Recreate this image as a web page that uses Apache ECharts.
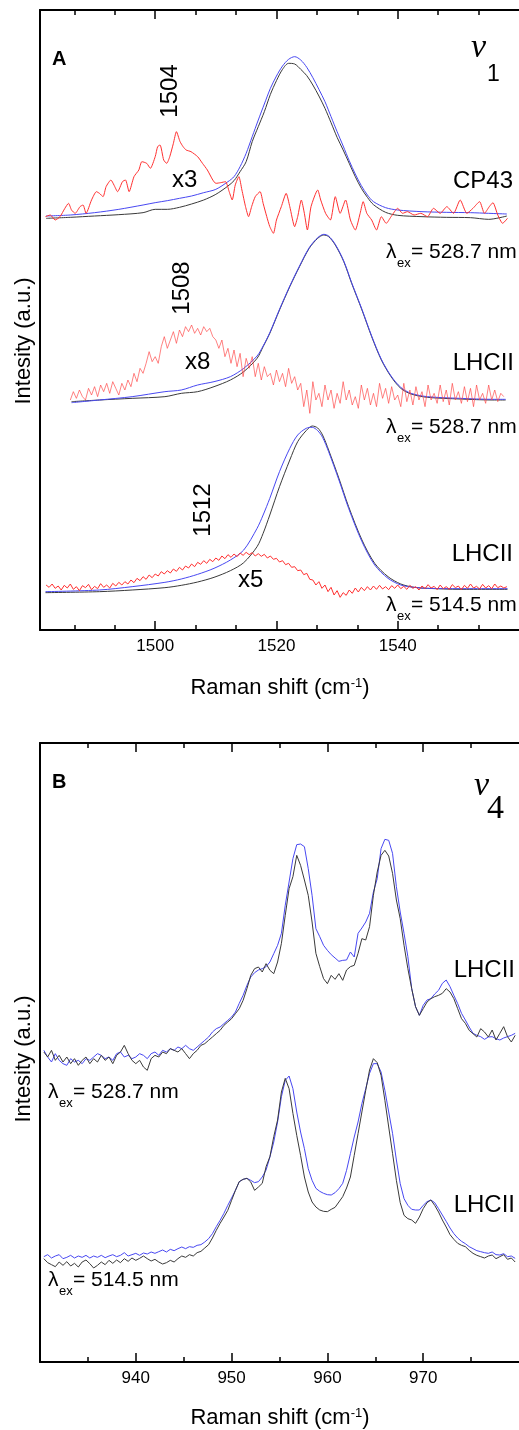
<!DOCTYPE html>
<html><head><meta charset="utf-8">
<script src="https://cdn.jsdelivr.net/npm/echarts@6/dist/echarts.min.js"></script>
<style>html,body{margin:0;padding:0;background:#fff;overflow:hidden}#c{width:519px;height:1430px}</style>
</head><body><div id="c"></div>
<script>
// ---------------- Panel A (v1 band, cm-1) ----------------
const aMajorTicks = [1500, 1520, 1540];
const aMinorTicks = [1486.667, 1493.333, 1506.667, 1513.333, 1526.667, 1533.333, 1546.667, 1553.333];
// CP43, 528.7 nm
const xA1s = [1482,1486,1490,1494,1498,1500,1502,1504,1506,1508,1510,1512,1513,1514,1515,1516,1517,1518,1519,1520,1521,1522,1523,1524,1525,1526,1527,1528,1529,1530,1531,1532,1533,1534,1535,1536,1538,1540,1544,1548,1552,1555,1558];
const blackA1 = [1235,1238,1242,1246,1252,1262,1262,1268,1278,1290,1307,1332,1348,1375,1405,1465,1510,1555,1607,1648,1682,1700,1698,1682,1663,1635,1602,1565,1522,1478,1440,1400,1360,1325,1298,1276,1253,1244,1240,1238,1237,1232,1242];
const blueA1 = [1242,1245,1252,1262,1275,1282,1288,1295,1302,1312,1322,1345,1360,1390,1430,1480,1530,1578,1625,1662,1692,1712,1720,1710,1688,1657,1622,1585,1540,1495,1452,1408,1368,1333,1305,1285,1267,1260,1255,1253,1252,1250,1248];
const xA1r = [1481.9,1482.7,1483.5,1484.3,1485.1,1485.7,1486.2,1486.8,1487.6,1488.1,1488.6,1489.5,1490.3,1490.8,1491.4,1491.9,1492.7,1493.2,1493.8,1494.6,1495.1,1495.7,1496.5,1497.3,1497.8,1498.6,1499.2,1500,1500.4,1500.8,1501.4,1501.9,1502.4,1503,1503.5,1504.1,1504.6,1505.1,1505.9,1507,1507.8,1508.6,1509.5,1510,1510.8,1511.6,1512.2,1512.7,1513.2,1513.8,1514.3,1514.9,1515.4,1515.9,1516.5,1517.3,1517.8,1518.4,1518.9,1519.5,1520,1520.8,1521.6,1522.2,1523,1523.5,1524.1,1524.6,1525.1,1525.7,1526.8,1527.3,1528.1,1528.9,1529.7,1530.5,1531.4,1532.2,1533,1533.8,1534.3,1534.9,1535.7,1536.5,1537.3,1538.1,1538.9,1540,1540.8,1541.6,1542.7,1543.8,1544.9,1545.9,1547,1548.1,1549.2,1550.3,1551.4,1552.4,1553.5,1554.3,1555.1,1555.7,1556.5,1557.3,1558.1];
const redA1 = [1240,1245,1230,1240,1265,1280,1260,1250,1270,1275,1250,1290,1315,1310,1300,1330,1350,1335,1315,1345,1350,1315,1360,1380,1405,1400,1385,1420,1450,1455,1410,1400,1420,1460,1495,1465,1450,1440,1435,1420,1400,1380,1350,1340,1342,1345,1315,1290,1335,1360,1320,1270,1240,1270,1300,1315,1280,1240,1210,1190,1230,1270,1310,1270,1210,1240,1290,1250,1200,1270,1320,1290,1250,1230,1300,1250,1290,1230,1200,1250,1285,1250,1230,1200,1240,1220,1240,1265,1250,1255,1245,1250,1240,1265,1250,1270,1250,1290,1250,1265,1285,1250,1270,1282,1245,1220,1235];
// LHCII, 528.7 nm
const xA2s = [1486.2,1490.8,1496.2,1501.6,1504.3,1507,1509.7,1512.4,1514.6,1516.8,1517.8,1518.9,1520.5,1522.2,1523.8,1525.4,1526.8,1527.8,1528.6,1529.7,1531.1,1532.4,1534.1,1535.7,1537.3,1538.9,1540.5,1542.2,1544.9,1550.3,1555.7,1557.8];
const blackA2 = [685,690,695,700,710,715,730,750,775,815,850,890,960,1030,1090,1145,1175,1185,1180,1155,1105,1040,960,880,810,760,725,708,698,693,690,690];
const blueA2 = [682,690,700,715,720,735,745,760,785,822,852,892,962,1032,1092,1147,1177,1187,1182,1157,1107,1042,962,882,812,762,728,710,700,695,692,692];
const xA2r = [1486,1486.5,1487,1487.5,1488,1488.5,1489,1489.5,1490,1490.5,1491,1491.5,1492,1492.5,1493,1493.5,1494,1494.5,1495,1495.5,1496,1496.5,1497,1497.5,1498,1498.5,1499,1499.5,1500,1500.5,1501,1501.5,1502,1502.5,1503,1503.5,1504,1504.5,1505,1505.5,1506,1506.5,1507,1507.5,1508,1508.5,1509,1509.5,1510,1510.5,1511,1511.5,1512,1512.5,1513,1513.5,1514,1514.5,1515,1515.5,1516,1516.5,1517,1517.5,1518,1518.5,1519,1519.5,1520,1520.5,1521,1521.5,1522,1522.5,1523,1523.5,1524,1524.5,1525,1525.5,1526,1526.5,1527,1527.5,1528,1528.5,1529,1529.5,1530,1530.5,1531,1531.5,1532,1532.5,1533,1533.5,1534,1534.5,1535,1535.5,1536,1536.5,1537,1537.5,1538,1538.5,1539,1539.5,1540,1540.5,1541,1541.5,1542,1542.5,1543,1543.5,1544,1544.5,1545,1545.5,1546,1546.5,1547,1547.5,1548,1548.5,1549,1549.5,1550,1550.5,1551,1551.5,1552,1552.5,1553,1553.5,1554,1554.5,1555,1555.5,1556,1556.5,1557,1557.5];
const redA2 = [690,715,695,720,700,690,725,705,730,700,735,715,740,710,745,725,705,740,720,750,730,770,745,785,770,800,835,805,820,800,850,880,845,870,895,860,900,880,910,895,915,890,905,885,910,895,905,880,870,845,870,820,845,800,840,790,830,760,815,785,820,760,800,750,790,760,770,735,780,745,770,730,785,740,760,720,740,670,720,650,745,690,710,670,735,690,720,665,710,680,745,690,720,675,700,665,735,690,725,675,710,670,740,695,725,680,730,690,705,670,740,685,720,675,730,690,715,670,735,690,710,680,735,685,720,675,740,690,715,680,730,685,725,670,735,690,710,680,735,690,720,685,710,700];
// LHCII, 514.5 nm
const xA3s = [1481.9,1490.8,1496.2,1501.6,1504.3,1507,1509.7,1512.4,1514.6,1516.8,1517.8,1518.9,1520.5,1522.2,1523.5,1524.9,1525.9,1526.8,1527.6,1528.6,1530.3,1531.9,1534.1,1536.2,1538.4,1540.5,1542.7,1544.9,1550.3,1558.1];
const blackA3 = [112,115,120,127,134,144,158,178,202,250,290,345,430,510,565,598,612,606,585,540,455,370,270,200,160,138,128,125,122,122];
const blueA3 = [115,120,130,143,153,167,185,210,240,305,345,395,475,545,585,605,608,598,578,535,450,365,265,195,155,135,128,125,124,124];
const xA3r = [1482,1482.5,1483,1483.5,1484,1484.5,1485,1485.5,1486,1486.5,1487,1487.5,1488,1488.5,1489,1489.5,1490,1490.5,1491,1491.5,1492,1492.5,1493,1493.5,1494,1494.5,1495,1495.5,1496,1496.5,1497,1497.5,1498,1498.5,1499,1499.5,1500,1500.5,1501,1501.5,1502,1502.5,1503,1503.5,1504,1504.5,1505,1505.5,1506,1506.5,1507,1507.5,1508,1508.5,1509,1509.5,1510,1510.5,1511,1511.5,1512,1512.5,1513,1513.5,1514,1514.5,1515,1515.5,1516,1516.5,1517,1517.5,1518,1518.5,1519,1519.5,1520,1520.5,1521,1521.5,1522,1522.5,1523,1523.5,1524,1524.5,1525,1525.5,1526,1526.5,1527,1527.5,1528,1528.5,1529,1529.5,1530,1530.5,1531,1531.5,1532,1532.5,1533,1533.5,1534,1534.5,1535,1535.5,1536,1536.5,1537,1537.5,1538,1538.5,1539,1539.5,1540,1540.5,1541,1541.5,1542,1542.5,1543,1543.5,1544,1544.5,1545,1545.5,1546,1546.5,1547,1547.5,1548,1548.5,1549,1549.5,1550,1550.5,1551,1551.5,1552,1552.5,1553,1553.5,1554,1554.5,1555,1555.5,1556,1556.5,1557,1557.5,1558];
const redA3 = [135,128,138,125,132,120,134,126,138,122,130,118,133,127,137,121,131,124,139,128,135,126,140,132,143,135,145,138,150,142,155,148,160,152,165,157,168,162,175,168,178,171,183,176,188,180,192,186,198,190,203,197,208,200,212,205,216,209,222,214,226,218,228,220,231,224,233,226,232,222,229,221,227,216,222,212,215,204,208,196,200,188,190,178,180,166,170,152,150,135,145,125,135,115,128,105,118,98,112,104,120,110,126,114,128,118,130,120,132,122,134,123,130,121,133,125,135,124,131,122,134,125,130,120,132,124,136,126,131,121,135,124,130,122,136,127,132,121,134,125,138,126,131,123,137,126,133,124,138,127,132,126,130];

// ---------------- Panel B (v4 band, cm-1) ----------------
const bMajorTicks = [940, 950, 960, 970];
const bMinorTicks = [935, 945, 955, 965, 975];
const xB = [930.4,930.8,931.2,931.6,932,932.4,932.8,933.2,933.6,934,934.4,934.8,935.2,935.6,936,936.4,936.8,937.2,937.6,938,938.4,938.8,939.2,939.6,940,940.4,940.8,941.2,941.6,942,942.4,942.8,943.2,943.6,944,944.4,944.8,945.2,945.6,946,946.4,946.8,947.2,947.6,948,948.4,948.8,949.2,949.6,950,950.4,950.8,951.2,951.6,952,952.4,952.8,953.2,953.6,954,954.4,954.8,955.2,955.6,956,956.4,956.8,957.2,957.6,958,958.4,958.8,959.2,959.6,960,960.4,960.8,961.2,961.6,962,962.4,962.8,963.2,963.6,964,964.4,964.8,965.2,965.6,966,966.4,966.8,967.2,967.6,968,968.4,968.8,969.2,969.6,970,970.4,970.8,971.2,971.6,972,972.4,972.8,973.2,973.6,974,974.4,974.8,975.2,975.6,976,976.4,976.8,977.2,977.6,978,978.4,978.8,979.2,979.6];
// LHCII, 528.7 nm
const blackB1 = [930,915,935,905,920,900,915,895,910,890,905,915,895,910,900,920,905,915,895,920,930,950,925,905,895,905,885,875,910,920,915,930,925,940,935,930,940,925,910,925,935,950,955,965,975,985,995,1010,1020,1030,1045,1060,1085,1120,1160,1180,1185,1170,1195,1175,1165,1200,1256,1340,1420,1456,1520,1490,1446,1400,1320,1226,1186,1150,1135,1160,1148,1165,1145,1176,1186,1190,1226,1270,1266,1306,1400,1470,1520,1535,1518,1466,1386,1330,1250,1180,1120,1066,1040,1060,1080,1090,1096,1100,1106,1120,1110,1090,1060,1030,1016,995,985,975,1000,990,975,996,966,986,1006,976,960,980];
const blueB1 = [935,915,900,925,905,895,890,910,900,905,895,910,905,915,925,920,910,915,905,925,930,915,920,910,915,925,920,910,925,930,920,935,930,940,935,945,940,950,940,935,945,955,965,975,990,1000,1005,1015,1025,1035,1050,1076,1100,1130,1155,1168,1176,1180,1186,1200,1225,1250,1286,1370,1440,1510,1552,1554,1546,1480,1400,1300,1276,1250,1235,1222,1212,1202,1205,1206,1230,1215,1286,1302,1320,1346,1410,1450,1540,1568,1565,1526,1426,1350,1286,1216,1120,1066,1040,1070,1086,1090,1104,1115,1136,1146,1126,1100,1075,1046,1026,1005,986,980,976,968,975,976,970,966,972,976,980,986];
// LHCII, 514.5 nm
const blackB2 = [310,298,292,286,300,290,301,288,296,285,300,306,295,282,290,300,292,305,296,306,298,310,302,312,305,311,318,310,303,308,300,294,298,305,300,310,318,314,322,318,328,332,342,352,372,395,416,435,455,485,515,541,548,551,540,515,525,536,586,616,676,726,810,851,820,746,680,620,555,510,480,465,456,452,451,458,464,480,496,522,555,620,685,750,815,876,910,898,860,785,705,626,545,478,440,430,426,416,435,460,478,486,470,450,426,405,382,368,356,350,346,335,326,320,316,312,318,321,310,316,322,308,312,300];
const blueB2 = [316,322,312,318,322,310,314,320,312,318,314,320,312,318,314,320,313,318,322,316,320,328,318,322,326,320,327,324,330,326,331,336,330,338,334,340,345,340,346,344,350,352,360,370,385,406,425,446,470,492,515,541,548,551,545,538,541,555,576,615,660,720,796,845,858,820,750,690,640,580,545,521,512,506,502,501,508,520,536,575,625,675,720,775,820,866,895,895,870,815,750,686,606,535,490,470,458,456,456,470,481,486,478,460,441,422,402,385,372,362,355,346,340,334,331,328,326,330,322,321,325,316,318,311];

// ---------------- Text ----------------
const xTitleText = 'Raman shift (cm{sup|-1})';
const yTitleText = 'Intesity (a.u.)';

const FS = "'Liberation Sans', Arial, sans-serif";
const SERIF = "'Liberation Serif', 'Times New Roman', serif";
const BLACK = '#3a3a3a', BLUE = '#4848f2', RED = '#ff3030', RED2 = 'rgba(255,70,70,0.85)';

function xAxesFor(grid, min, max, major, minor) {
  const lineSt = {color: '#000', width: 1.5};
  const base = {type: 'value', gridIndex: grid, min: min, max: max, splitLine: {show: false}, axisPointer: {show: false}};
  return [
    Object.assign({}, base, {position: 'bottom',
      axisLine: {show: true, onZero: false, lineStyle: {color: '#000', width: 2}},
      axisTick: {show: true, inside: true, length: 9, customValues: major, lineStyle: lineSt},
      axisLabel: {show: true, customValues: major, fontSize: 17, color: '#000', margin: 8, fontFamily: FS, formatter: v => String(v)}}),
    Object.assign({}, base, {position: 'bottom',
      axisLine: {show: false, onZero: false},
      axisTick: {show: true, inside: true, length: 5, customValues: minor, lineStyle: lineSt},
      axisLabel: {show: false}}),
    Object.assign({}, base, {position: 'top',
      axisLine: {show: true, onZero: false, lineStyle: {color: '#000', width: 2}},
      axisTick: {show: true, inside: true, length: 9, customValues: major, lineStyle: lineSt},
      axisLabel: {show: false}}),
    Object.assign({}, base, {position: 'top',
      axisLine: {show: false, onZero: false},
      axisTick: {show: true, inside: true, length: 5, customValues: minor, lineStyle: lineSt},
      axisLabel: {show: false}})
  ];
}
function yAxisFor(grid, max) {
  return {type: 'value', gridIndex: grid, min: 0, max: max, position: 'left',
    axisLine: {show: true, onZero: false, lineStyle: {color: '#000', width: 2}},
    axisTick: {show: false}, axisLabel: {show: false}, splitLine: {show: false}};
}
function line(xs, ys, color, width, xi, yi, smooth) {
  return {type: 'line', xAxisIndex: xi, yAxisIndex: yi, data: xs.map((x, i) => [x, ys[i]]),
    symbol: 'none', showSymbol: false, smooth: smooth || false, silent: true, animation: false,
    lineStyle: {color: color, width: width}, emphasis: {disabled: true}};
}
function T(text, x, y, size, align, extra) {
  return {type: 'text', x: x, y: y, z: 100, silent: true,
    style: Object.assign({text: text, fontSize: size, fontFamily: FS, fill: '#000',
      align: align || 'left', verticalAlign: 'middle', textAlign: align || 'left', textVerticalAlign: 'middle'}, extra || {})};
}
function R(text, x, y, size) {
  const t = T(text, x, y, size, 'center');
  t.rotation = Math.PI / 2;
  return t;
}
function lambda(x, y, value) {
  return [
    T('\u03bb', x, y, 21, 'left'),
    T('ex', x + 11, y + 11, 13, 'left'),
    T('= ' + value, x + 25, y, 21, 'left')
  ];
}
function xTitle(y) {
  return T(xTitleText, 280, y, 22, 'center', {rich: {sup: {fontSize: 13, fontFamily: FS, verticalAlign: 'top', fill: '#000'}}});
}

const graphics = [].concat(
  [T('A', 52, 59, 20, 'left', {fontWeight: 'bold'}),
   T('\u03bd', 471, 48, 34, 'left', {fontFamily: SERIF, fontStyle: 'italic'}),
   T('1', 487, 75, 23, 'left'),
   R('1504', 170, 91, 24), T('x3', 172, 180, 24), T('CP43', 513, 181, 24, 'right'),
   R('1508', 182, 288, 24), T('x8', 185, 362, 24), T('LHCII', 514, 363, 24, 'right'),
   R('1512', 203, 510, 24), T('x5', 238, 580, 24), T('LHCII', 513, 554, 24, 'right'),
   xTitle(688), R(yTitleText, 24, 341, 22)],
  lambda(386, 252, '528.7 nm'), lambda(386, 427, '528.7 nm'), lambda(386, 605, '514.5 nm'),
  [T('B', 52, 782, 20, 'left', {fontWeight: 'bold'}),
   T('\u03bd', 474, 786, 34, 'left', {fontFamily: SERIF, fontStyle: 'italic'}),
   T('4', 487, 809, 34, 'left', {fontFamily: SERIF}),
   T('LHCII', 515, 970, 24, 'right'), T('LHCII', 515, 1205, 24, 'right'),
   xTitle(1418), R(yTitleText, 24, 1059, 22)],
  lambda(48, 1092, '528.7 nm'), lambda(48, 1280, '514.5 nm')
);

const option = {
  animation: false,
  backgroundColor: '#fff',
  grid: [
    {left: 40, top: 10, width: 487, height: 620, containLabel: false},
    {left: 40, top: 743, width: 480, height: 619, containLabel: false}
  ],
  xAxis: [].concat(xAxesFor(0, 1481, 1560, aMajorTicks, aMinorTicks), xAxesFor(1, 930, 980, bMajorTicks, bMinorTicks)),
  yAxis: [yAxisFor(0, 1860), yAxisFor(1, 1857)],
  series: [
    line(xA1s, blackA1, BLACK, 1, 0, 0, 0.3),
    line(xA1s, blueA1, BLUE, 1, 0, 0, 0.3),
    line(xA1r, redA1, RED, 1, 0, 0, 0.2),
    line(xA2s, blackA2, BLACK, 1, 0, 0, 0.3),
    line(xA2s, blueA2, BLUE, 1, 0, 0, 0.3),
    line(xA2r, redA2, RED2, 0.8, 0, 0),
    line(xA3s, blackA3, BLACK, 1, 0, 0, 0.3),
    line(xA3s, blueA3, BLUE, 1, 0, 0, 0.3),
    line(xA3r, redA3, RED, 1, 0, 0),
    line(xB, blueB1, BLUE, 1, 4, 1),
    line(xB, blackB1, BLACK, 1, 4, 1),
    line(xB, blueB2, BLUE, 1, 4, 1),
    line(xB, blackB2, BLACK, 1, 4, 1)
  ],
  graphic: {elements: graphics}
};
const chart = echarts.init(document.getElementById('c'), null, {renderer: 'canvas'});
chart.setOption(option);
</script>
</body></html>
